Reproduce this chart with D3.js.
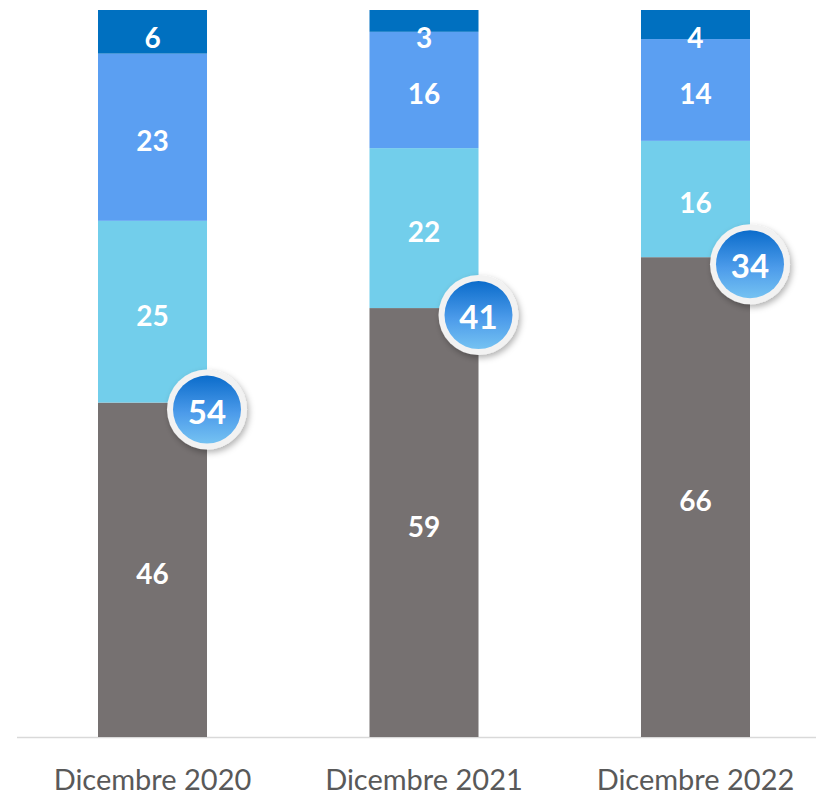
<!DOCTYPE html>
<html>
<head>
<meta charset="utf-8">
<script src="https://cdn.jsdelivr.net/npm/d3@7"></script>
<style>
  html, body { margin: 0; padding: 0; background: #fff; }
  svg { display: block; }
</style>
</head>
<body>
<svg id="chart" width="816" height="794"></svg>
<script>
// Period labels on the x axis
const categories = ["Dicembre 2020", "Dicembre 2021", "Dicembre 2022"];
// Stacked shares (percent), from bottom to top
const seriesGrey = [46, 59, 66];
const seriesCyan = [25, 22, 16];
const seriesBlue = [23, 16, 14];
const seriesDark = [6, 3, 4];
// Badge values: sum of the three blue segments
const badgeValues = [54, 41, 34];

const seriesList = [
  { key: "grey", values: seriesGrey, color: "#767171" },
  { key: "cyan", values: seriesCyan, color: "#72CEEB" },
  { key: "blue", values: seriesBlue, color: "#5B9FF2" },
  { key: "dark", values: seriesDark, color: "#0070C0" }
];

const svg = d3.select("#chart");
const W = 816;
const plotTop = 10, plotBottom = 737;

// Columns: first starts at x=98, last ends at x=750
const x = d3.scaleBand().domain(categories).range([98, 750])
  .paddingInner(0.5985).paddingOuter(0);

const y = d3.scaleLinear().domain([0, 100]).range([plotBottom, plotTop]);

const defs = svg.append("defs");
const grad = defs.append("linearGradient").attr("id", "badgeGrad")
  .attr("x1", 0).attr("y1", 0).attr("x2", 0).attr("y2", 1);
grad.append("stop").attr("offset", "0%").attr("stop-color", "#0B6CCB");
grad.append("stop").attr("offset", "55%").attr("stop-color", "#4C9BEA");
grad.append("stop").attr("offset", "100%").attr("stop-color", "#75C2F2");
const shadow = defs.append("filter").attr("id", "badgeShadow")
  .attr("x", "-50%").attr("y", "-50%").attr("width", "200%").attr("height", "200%");
shadow.append("feDropShadow").attr("dx", 2).attr("dy", 3).attr("stdDeviation", 3)
  .attr("flood-color", "#000").attr("flood-opacity", 0.3);

// Build stacked rows
const rows = categories.map((c, i) => {
  const r = { cat: c };
  seriesList.forEach(s => r[s.key] = s.values[i]);
  return r;
});
const stack = d3.stack().keys(seriesList.map(s => s.key));
const stacked = stack(rows);

// Axis baseline
svg.append("line")
  .attr("x1", 17).attr("x2", W).attr("y1", plotBottom + 0.5).attr("y2", plotBottom + 0.5)
  .attr("stroke", "#D9D9D9").attr("stroke-width", 1.5);

const layers = svg.append("g").selectAll("g").data(stacked).join("g")
  .attr("fill", (d, i) => seriesList[i].color);

layers.selectAll("rect").data(d => d).join("rect")
  .attr("x", d => x(d.data.cat))
  .attr("width", x.bandwidth())
  .attr("y", d => y(d[1]))
  .attr("height", d => y(d[0]) - y(d[1]));

// Segment value labels
const labelG = svg.append("g");
stacked.forEach(layer => {
  layer.forEach(d => {
    const v = d[1] - d[0];
    const mid = (y(d[0]) + y(d[1])) / 2 + 3;
    labelG.append("text")
      .attr("x", x(d.data.cat) + x.bandwidth() / 2)
      .attr("y", Math.max(mid, 37))
      .attr("text-anchor", "middle")
      .attr("dominant-baseline", "central")
      .attr("fill", "#fff")
      .attr("font-family", "Lato, 'Open Sans', sans-serif")
      .attr("font-weight", 700)
      .attr("font-size", 28)
      .text(v);
  });
});

// Badges at the right edge of each column, at the top of the grey block
const badges = svg.append("g").selectAll("g").data(categories).join("g")
  .attr("transform", (c, i) => `translate(${x(c) + x.bandwidth()},${y(seriesGrey[i]) + 7})`);
badges.append("circle").attr("r", 40).attr("fill", "#F2F2F2").attr("filter", "url(#badgeShadow)");
badges.append("circle").attr("r", 34).attr("fill", "url(#badgeGrad)");
badges.append("text")
  .attr("text-anchor", "middle").attr("dominant-baseline", "central")
  .attr("y", 1)
  .attr("fill", "#fff")
  .attr("font-family", "Lato, 'Open Sans', sans-serif")
  .attr("font-weight", 700)
  .attr("font-size", 33)
  .text((c, i) => badgeValues[i]);

// Category labels
svg.append("g").selectAll("text").data(categories).join("text")
  .attr("x", c => x(c) + x.bandwidth() / 2)
  .attr("y", 778)
  .attr("text-anchor", "middle").attr("dominant-baseline", "central")
  .attr("fill", "#595959")
  .attr("font-family", "Lato, 'Open Sans', sans-serif")
  .attr("font-size", 29)
  .text(c => c);
</script>
</body>
</html>
